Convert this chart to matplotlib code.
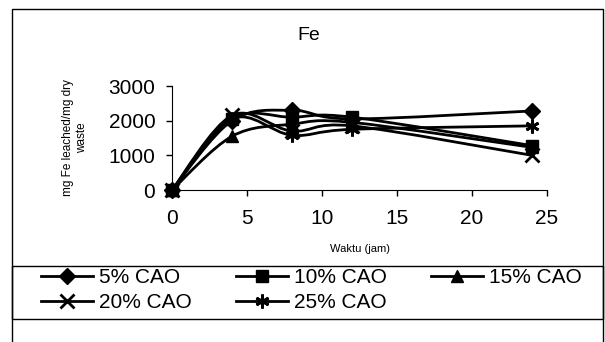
"""
Fe leaching vs time for different CaO doses (smoothed lines, Excel style).
"""

import matplotlib
matplotlib.use("Agg")
import matplotlib.pyplot as plt
import numpy as np
from matplotlib.path import Path
from matplotlib.patches import PathPatch, Rectangle
from matplotlib.lines import Line2D

plt.rcParams["font.family"] = ["Liberation Sans", "DejaVu Sans"]

# data
waktu = [0, 4, 8, 12, 24]
series_labels = ["5% CAO", "10% CAO", "15% CAO", "20% CAO", "25% CAO"]
fe_5 = [0, 2000, 2300, 2050, 2280]
fe_10 = [0, 2050, 2100, 2100, 1280]
fe_15 = [0, 1550, 1900, 1950, 1230]
fe_20 = [0, 2150, 1700, 1850, 1000]
fe_25 = [0, 2050, 1580, 1750, 1850]
x_ticks = [0, 5, 10, 15, 20, 25]
y_ticks = [0, 1000, 2000, 3000]

ASTERISK = (6, 2, 0)
MARKERS = ["D", "s", "^", "x", ASTERISK]
MSIZES = [8, 8, 9, 10, 10]

W, H = 605, 342


def smooth_path(xs, ys):
    """Catmull-Rom style bezier through the points, like Excel's smoothed line."""
    pts = np.column_stack([xs, ys]).astype(float)
    n = len(pts)
    verts = [pts[0]]
    codes = [Path.MOVETO]
    for i in range(n - 1):
        p0 = pts[i - 1] if i > 0 else pts[i]
        p1 = pts[i]
        p2 = pts[i + 1]
        p3 = pts[i + 2] if i + 2 < n else pts[i + 1]
        c1 = p1 + (p2 - p0) / 6.0
        c2 = p2 - (p3 - p1) / 6.0
        verts += [c1, c2, p2]
        codes += [Path.CURVE4] * 3
    return Path(verts, codes)


def mew(mk):
    return 2 if mk in ("x", ASTERISK) else 1


fig = plt.figure(figsize=(W / 100, H / 100), dpi=100)

# outer chart frame (bottom edge runs off the image)
fig.add_artist(Rectangle((12 / W, -0.05), (603 - 12) / W, (342 - 9) / H + 0.05,
                         transform=fig.transFigure, fill=False,
                         edgecolor="black", linewidth=1.0))
# legend box
fig.add_artist(Rectangle((12 / W, 1 - 319 / H), (603 - 12) / W, (319 - 266) / H,
                         transform=fig.transFigure, fill=False,
                         edgecolor="black", linewidth=1.0))

ax = fig.add_axes([172 / W, (H - 190) / H, (547 - 172) / W, (190 - 86) / H])

all_series = [fe_5, fe_10, fe_15, fe_20, fe_25]
for vals, mk, ms in zip(all_series, MARKERS, MSIZES):
    ax.add_patch(PathPatch(smooth_path(waktu, vals), facecolor="none",
                           edgecolor="black", linewidth=2.0, zorder=2))
    ax.plot(waktu, vals, linestyle="none", marker=mk, markersize=ms,
            color="black", markeredgewidth=mew(mk), zorder=3, clip_on=False)

ax.set_xlim(0, 25)
ax.set_ylim(0, 3000)
ax.set_xticks(x_ticks)
ax.set_yticks(y_ticks)
ax.tick_params(direction="out", length=4, width=1, labelsize=15, pad=8)
ax.tick_params(axis="x", pad=10)
for side in ("top", "right"):
    ax.spines[side].set_visible(False)
ax.set_xlabel("Waktu (jam)", fontsize=8, labelpad=11)
ax.set_ylabel("mg Fe leached/mg dry\nwaste", fontsize=8.5, labelpad=15)

fig.text(309 / W, 1 - 35 / H, "Fe", ha="center", va="center", fontsize=14)

handles = [Line2D([], [], color="black", linewidth=2, marker=mk, markersize=ms,
                  markeredgewidth=mew(mk))
           for mk, ms in zip(MARKERS, MSIZES)]
# legend fills column by column, so reorder to get rows like the original
order = [0, 3, 1, 4, 2]
leg = fig.legend([handles[i] for i in order], [series_labels[i] for i in order],
                 ncol=3, loc="upper left",
                 bbox_to_anchor=(41 / W, 1 - 268 / H), fontsize=15,
                 frameon=False, handlelength=2.5, handletextpad=0.3,
                 columnspacing=2.1, labelspacing=0.3, borderpad=0,
                 borderaxespad=0)

fig.savefig("out.png", dpi=100)
